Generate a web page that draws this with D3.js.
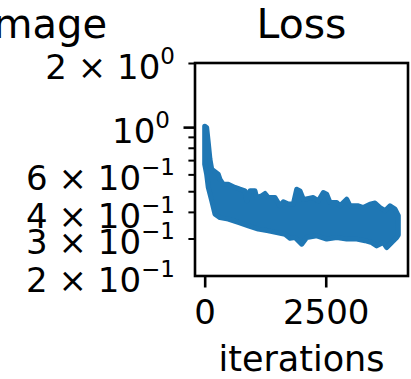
<!DOCTYPE html>
<html>
<head>
<meta charset="utf-8">
<script src="https://cdn.jsdelivr.net/npm/d3@7"></script>
<style>
  html, body { margin: 0; padding: 0; background: #fff; }
  svg { display: block; font-family: 'DejaVu Sans', sans-serif; }
</style>
</head>
<body>
<div id="chart"></div>
<script>
// data: the noisy loss line drawn as its upper / lower envelope
const nIter = 3999;
const iterUpper = [0, 41, 74, 109, 145, 213, 281, 316, 384, 487, 626, 729, 832, 868, 936, 1039, 1074, 1177, 1246, 1314,
  1452, 1555, 1624, 1727, 1830, 1900, 1969, 2037, 2072, 2243, 2347, 2450, 2520, 2588, 2727, 2795, 2933, 3001, 3173,
  3276, 3415, 3518, 3621, 3724, 3828, 3931, 3999];
const lossUpper = [1.01, 0.996, 0.847, 0.707, 0.634, 0.617, 0.601, 0.569, 0.539, 0.539, 0.521, 0.511, 0.502, 0.451,
  0.502, 0.502, 0.467, 0.476, 0.488, 0.467, 0.467, 0.427, 0.446, 0.435, 0.435, 0.511, 0.502, 0.459, 0.459, 0.467,
  0.451, 0.493, 0.484, 0.443, 0.443, 0.427, 0.459, 0.427, 0.427, 0.419, 0.435, 0.44, 0.419, 0.405, 0.427, 0.412, 0.384];
const iterLower = [0, 40, 74, 145, 213, 316, 487, 694, 901, 1107, 1314, 1487, 1659, 1762, 1865, 2004, 2107, 2314, 2520,
  2727, 2933, 3140, 3311, 3450, 3553, 3689, 3760, 3863, 3966, 3999];
const lossLower = [0.67, 0.601, 0.521, 0.451, 0.39, 0.376, 0.37, 0.357, 0.344, 0.332, 0.326, 0.32, 0.314, 0.301, 0.303,
  0.282, 0.303, 0.309, 0.298, 0.303, 0.298, 0.298, 0.293, 0.287, 0.277, 0.287, 0.272, 0.287, 0.303, 0.312];

const xTicks = [0, 2500];
const yMajor = [1];
const yMinor = [0.3, 0.4, 0.5, 0.6, 0.7, 0.8, 0.9, 2];
// labelled ticks: [value, mantissa, exponent]
const yLabels = [[2, '2', '0'], [1, '', '0'], [0.6, '6', '\u22121'], [0.4, '4', '\u22121'], [0.3, '3', '\u22121'], [0.2, '2', '\u22121']];

const W = 411, H = 379;
const box = { left: 195, right: 408, top: 63, bottom: 276 };
const blue = '#1f77b4';

const svg = d3.select('#chart').append('svg').attr('width', W).attr('height', H);

const x = d3.scaleLinear().domain([-0.05 * nIter, 1.05 * nIter]).range([box.left, box.right]);
const y = d3.scaleLog().domain([0.2, 2]).range([box.bottom, box.top]);

// loss band
const upperPts = iterUpper.map((d, i) => [x(d), y(lossUpper[i])]);
const lowerPts = iterLower.map((d, i) => [x(d), y(lossLower[i])]).reverse();
svg.append('path')
  .attr('d', d3.line()(upperPts.concat(lowerPts)) + 'Z')
  .attr('fill', blue)
  .attr('stroke', blue)
  .attr('stroke-width', 5)
  .attr('stroke-linejoin', 'round');

// y ticks
const yMinorG = svg.append('g').attr('transform', `translate(${box.left},0)`)
  .call(d3.axisLeft(y).tickValues(yMinor).tickSize(6.6).tickFormat(''));
const yMajorG = svg.append('g').attr('transform', `translate(${box.left},0)`)
  .call(d3.axisLeft(y).tickValues(yMajor).tickSize(11.5).tickFormat(''));
yMinorG.selectAll('line').attr('stroke', '#000').attr('stroke-width', 2);
yMajorG.selectAll('line').attr('stroke', '#000').attr('stroke-width', 2.6);

// x ticks
const xG = svg.append('g').attr('transform', `translate(0,${box.bottom})`)
  .call(d3.axisBottom(x).tickValues(xTicks).tickSize(11.5).tickPadding(12).tickFormat(d3.format('d')));
xG.selectAll('line').attr('stroke', '#000').attr('stroke-width', 2.6);
xG.selectAll('text').attr('font-size', 34).attr('fill', '#000')
  .attr('font-family', "'DejaVu Sans', sans-serif").attr('dy', '0.72em');

svg.selectAll('.domain').remove();

// frame
svg.append('rect')
  .attr('x', box.left).attr('y', box.top)
  .attr('width', box.right - box.left).attr('height', box.bottom - box.top)
  .attr('fill', 'none').attr('stroke', '#000').attr('stroke-width', 2.6);

// y tick labels like matplotlib mathtext
yLabels.forEach(([v, m, e]) => {
  const isMajor = yMajor.includes(v);
  const t = svg.append('text')
    .attr('x', isMajor ? 170 : 175)
    .attr('y', y(v) + 16)
    .attr('text-anchor', 'end')
    .attr('font-size', 34)
    .attr('fill', '#000');
  t.append('tspan').text(m ? `${m} \u00d7 10` : '10');
  t.append('tspan').attr('dy', -15).attr('font-size', 23).text(e);
});

// titles and label
svg.append('text').attr('x', 107).attr('y', 38).attr('text-anchor', 'end')
  .attr('font-size', 40).attr('fill', '#000').text('Image');
svg.append('text').attr('x', (box.left + box.right) / 2).attr('y', 38).attr('text-anchor', 'middle')
  .attr('font-size', 41).attr('fill', '#000').text('Loss');
svg.append('text').attr('x', (box.left + box.right) / 2).attr('y', 371).attr('text-anchor', 'middle')
  .attr('font-size', 35).attr('fill', '#000').text('iterations');
</script>
</body>
</html>
